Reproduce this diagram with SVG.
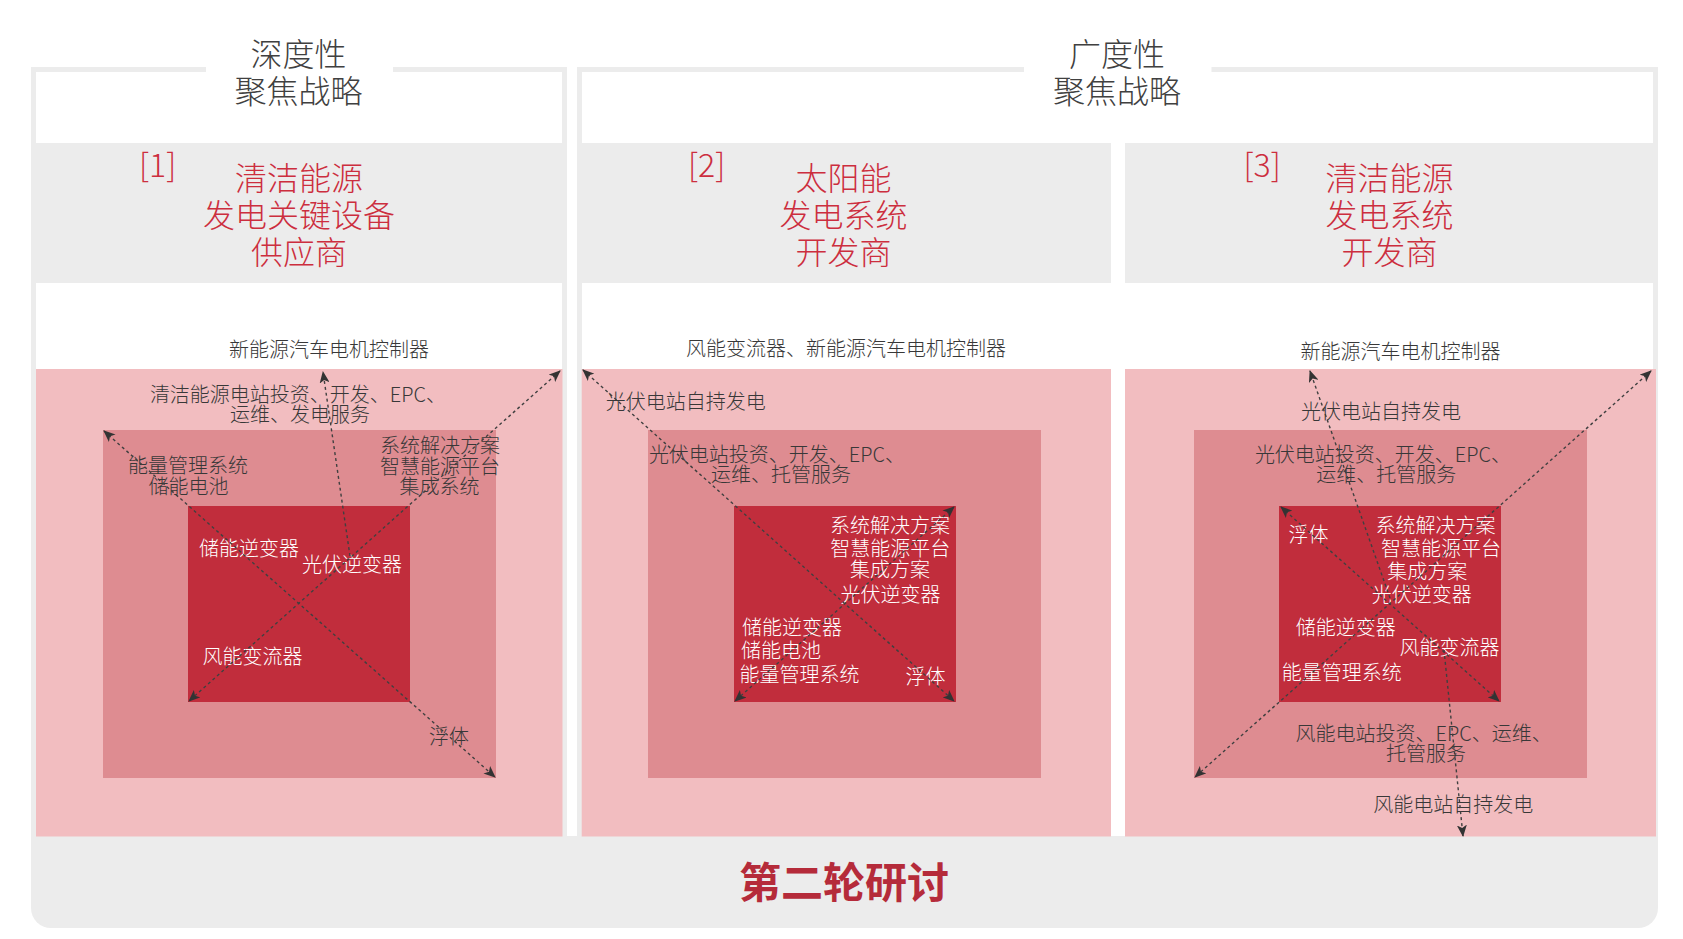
<svg xmlns="http://www.w3.org/2000/svg" width="1683" height="939" viewBox="0 0 1683 939">
<defs>
<style>
text{font-family:"Noto Sans CJK SC","Noto Sans",sans-serif;font-weight:300}
.h{font-size:32px;fill:#404040;text-anchor:middle}
.r{font-size:32px;fill:#cc2e3e;text-anchor:middle}
.rb{font-size:32px;fill:#cc2e3e}
.d{font-size:20px;fill:#383838;text-anchor:middle}
.w{font-size:20px;fill:#ffffff;text-anchor:middle}
.ws{font-size:20px;fill:#ffffff}
.frame{fill:none;stroke:#ececec;stroke-width:5}
.band{fill:#ececec}
.p1{fill:#f2bdc0}
.p2{fill:#de8c91}
.p3{fill:#c12d3c}
.c{fill:none;stroke:#404040;stroke-width:1.4;stroke-dasharray:3 3}
.bi{marker-start:url(#ah);marker-end:url(#ah)}
.en{marker-end:url(#ah)}
</style>
<marker id="ah" viewBox="0 0 12 10" refX="11" refY="5" markerWidth="12" markerHeight="10" markerUnits="userSpaceOnUse" orient="auto-start-reverse">
<path d="M0,0 L12,5 L0,10 L3,5 Z" fill="#333333"/>
</marker>
</defs>
<rect width="1683" height="939" fill="#ffffff"/>

<g id="bottom-bar">
<path d="M31,836 H1658 V908 A20,20 0 0 1 1638,928 H51 A20,20 0 0 1 31,908 Z" fill="#ececec"/>
<text x="844" y="898" style="font-size:42px;font-weight:700;fill:#b52b3a;text-anchor:middle">第二轮研讨</text>
</g>

<g id="frame-depth">
<path class="frame" d="M206,69.5 H33.5 V840 M393,69.5 H564.5 V840"/>
<text class="h" x="298.5" y="66">深度性</text>
<text class="h" x="298.5" y="103">聚焦战略</text>
</g>

<g id="frame-breadth">
<path class="frame" d="M1024,69.5 H579.5 V840 M1211.5,69.5 H1655.5 V840"/>
<text class="h" x="1117" y="66">广度性</text>
<text class="h" x="1117" y="103">聚焦战略</text>
</g>

<g id="col1">
<rect class="band" x="36" y="143" width="526.5" height="140"/>
<text class="rb" x="139" y="177">[1]</text>
<text class="r" x="299" y="190">清洁能源</text>
<text class="r" x="299" y="227">发电关键设备</text>
<text class="r" x="299" y="264">供应商</text>
<text class="d" x="329" y="356.5">新能源汽车电机控制器</text>
<rect class="p1" x="36" y="369" width="526.5" height="467.5"/>
<rect class="p2" x="103" y="430" width="393" height="348"/>
<rect class="p3" x="188" y="506" width="222" height="196"/>
<text class="d" x="298" y="401.5">清洁能源电站投资、开发、EPC、</text>
<text class="d" x="300" y="421.5">运维、发电服务</text>
<text class="d" x="188" y="472.5">能量管理系统</text>
<text class="d" x="188.5" y="493.5">储能电池</text>
<text class="d" x="440" y="452.5">系统解决方案</text>
<text class="d" x="440" y="473.5">智慧能源平台</text>
<text class="d" x="439.5" y="493.5">集成系统</text>
<text class="w" x="249" y="555.5">储能逆变器</text>
<text class="w" x="352" y="571.5">光伏逆变器</text>
<text class="w" x="252.5" y="663.5">风能变流器</text>
<text class="d" x="449" y="743.5">浮体</text>
</g>

<g id="col2">
<rect class="band" x="581.5" y="143" width="529.5" height="140"/>
<text class="rb" x="688" y="177">[2]</text>
<text class="r" x="843.5" y="190">太阳能</text>
<text class="r" x="843.5" y="227">发电系统</text>
<text class="r" x="843.5" y="264">开发商</text>
<text class="d" x="846" y="355.5">风能变流器、新能源汽车电机控制器</text>
<rect class="p1" x="581.7" y="369" width="529.3" height="467.5"/>
<rect class="p2" x="648" y="430" width="393" height="348"/>
<rect class="p3" x="734" y="506" width="222" height="196"/>
<text class="d" x="685.7" y="408.5">光伏电站自持发电</text>
<text class="d" x="777" y="461.5">光伏电站投资、开发、EPC、</text>
<text class="d" x="781" y="481.5">运维、托管服务</text>
<text class="w" x="890" y="532.5">系统解决方案</text>
<text class="w" x="890.3" y="555.5">智慧能源平台</text>
<text class="w" x="890" y="576.5">集成方案</text>
<text class="w" x="890.5" y="601.5">光伏逆变器</text>
<text class="ws" x="742" y="634.5">储能逆变器</text>
<text class="ws" x="741" y="658">储能电池</text>
<text class="ws" x="739.5" y="681.5">能量管理系统</text>
<text class="w" x="925.4" y="683.5">浮体</text>
</g>

<g id="col3">
<rect class="band" x="1125" y="143" width="528" height="140"/>
<text class="rb" x="1243.5" y="177">[3]</text>
<text class="r" x="1389.5" y="190">清洁能源</text>
<text class="r" x="1389.5" y="227">发电系统</text>
<text class="r" x="1389.5" y="264">开发商</text>
<text class="d" x="1400.5" y="359">新能源汽车电机控制器</text>
<rect class="p1" x="1125" y="369" width="531" height="467.5"/>
<rect class="p2" x="1194" y="430" width="393" height="348"/>
<rect class="p3" x="1279" y="506" width="222" height="196"/>
<text class="d" x="1381" y="419">光伏电站自持发电</text>
<text class="d" x="1383" y="461.5">光伏电站投资、开发、EPC、</text>
<text class="d" x="1386.3" y="481.5">运维、托管服务</text>
<text class="w" x="1308.4" y="541.5">浮体</text>
<text class="w" x="1435.6" y="532.5">系统解决方案</text>
<text class="w" x="1441" y="555.5">智慧能源平台</text>
<text class="w" x="1427.2" y="578.5">集成方案</text>
<text class="w" x="1421.8" y="601.5">光伏逆变器</text>
<text class="w" x="1345.7" y="634.5">储能逆变器</text>
<text class="w" x="1449.5" y="655">风能变流器</text>
<text class="w" x="1341.8" y="680">能量管理系统</text>
<text class="d" x="1423.7" y="741">风能电站投资、EPC、运维、</text>
<text class="d" x="1426" y="761">托管服务</text>
<text class="d" x="1453.3" y="811.5">风能电站自持发电</text>
</g>

<g id="connectors">
<line class="c bi" x1="104" y1="431" x2="495" y2="777"/>
<line class="c bi" x1="560" y1="371" x2="189" y2="701"/>
<line class="c en" x1="350" y1="556" x2="323" y2="372"/>
<line class="c bi" x1="583" y1="370" x2="954" y2="701"/>
<line class="c bi" x1="954" y1="507" x2="735" y2="701"/>
<line class="c bi" x1="1651" y1="371" x2="1195" y2="777"/>
<line class="c bi" x1="1281" y1="507" x2="1499" y2="701"/>
<line class="c en" x1="1390" y1="598" x2="1310" y2="371"/>
<line class="c en" x1="1444" y1="650" x2="1463" y2="836"/>
</g>
</svg>
